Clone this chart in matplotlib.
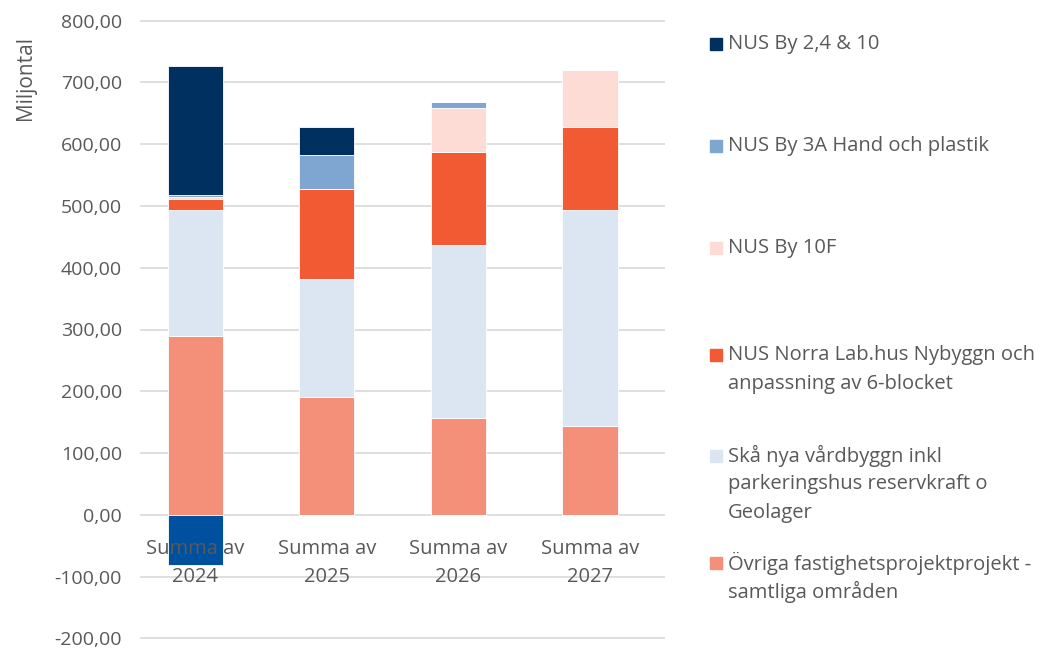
import matplotlib
matplotlib.use("Agg")
import matplotlib.pyplot as plt
import numpy as np
from matplotlib.patches import Rectangle

categories = ["Summa av\n2024", "Summa av\n2025", "Summa av\n2026", "Summa av\n2027"]

ovriga = [289, 191, 157, 144]
ska = [205, 190, 279, 349]
norra = [18, 147, 152, 134]
by10f = [2, 0, 71, 93]
by3a = [3, 55, 9, 0]
by2410 = [209, 44, 0, 0]
negativ = [-81, 0, 0, 0]

series = [
    ("Övriga fastighetsprojektprojekt -\nsamtliga områden", ovriga, "#f4907a"),
    ("Skå nya vårdbyggn inkl\nparkeringshus reservkraft o\nGeolager", ska, "#dce6f3"),
    ("NUS Norra Lab.hus Nybyggn och\nanpassning av 6-blocket", norra, "#f15a32"),
    ("NUS By 10F", by10f, "#fcdcd4"),
    ("NUS By 3A Hand och plastik", by3a, "#7fa6d0"),
    ("NUS By 2,4 & 10", by2410, "#003060"),
]

plt.rcParams['font.family'] = ['Open Sans', 'DejaVu Sans']
grey = "#595959"

W, H = 1049, 649
fig = plt.figure(figsize=(W / 100, H / 100), dpi=100)
ax = fig.add_axes([140 / W, 1 - 639 / H, 525 / W, 619 / H])

x = np.arange(len(categories))
width = 0.42
bottom = np.zeros(len(categories))
for name, vals, col in series:
    ax.bar(x, vals, width, bottom=bottom, color=col, edgecolor="white", linewidth=0.6, zorder=3)
    bottom += np.array(vals)
ax.bar(x, negativ, width, color="#0050a0", edgecolor="white", linewidth=0.6, zorder=3)

ax.set_xlim(-0.42, 3.57)
ax.set_ylim(-201, 801)
ax.set_yticks(np.arange(-200, 801, 100))
ax.set_yticklabels([f"{v:.2f}".replace(".", ",") for v in np.arange(-200, 801, 100)],
                   fontsize=14, color=grey)
ax.tick_params(axis="y", length=0, pad=13)
ax.set_xticks([])
ax.yaxis.grid(True, color="#d9d9d9", linewidth=1.2, zorder=0)
for s in ax.spines.values():
    s.set_visible(False)
ax.set_axisbelow(True)

for i, lab in enumerate(categories):
    for k, line in enumerate(lab.split("\n")):
        ax.text(i, -55 - k * 45, line, ha="center", va="center", fontsize=14.5,
                color=grey, zorder=5)

fig.text(25 / W, 1 - 78 / H, "Miljontal", rotation=90, ha="center", va="center",
         fontsize=15, color=grey)

# legend drawn by hand to follow the spacing of the reference
legend_rows = [44, 146, 248, 355, 456, 563]
for (name, vals, col), yc in zip(reversed(series), legend_rows):
    fig.add_artist(Rectangle((710 / W, 1 - (yc + 6) / H), 12 / W, 12 / H,
                             transform=fig.transFigure, color=col))
    for k, line in enumerate(name.split("\n")):
        fig.text(728 / W, 1 - (yc + k * 28.5) / H, line, ha="left", va="center",
                 fontsize=14.5, color=grey)

fig.savefig("out.png", dpi=100)
